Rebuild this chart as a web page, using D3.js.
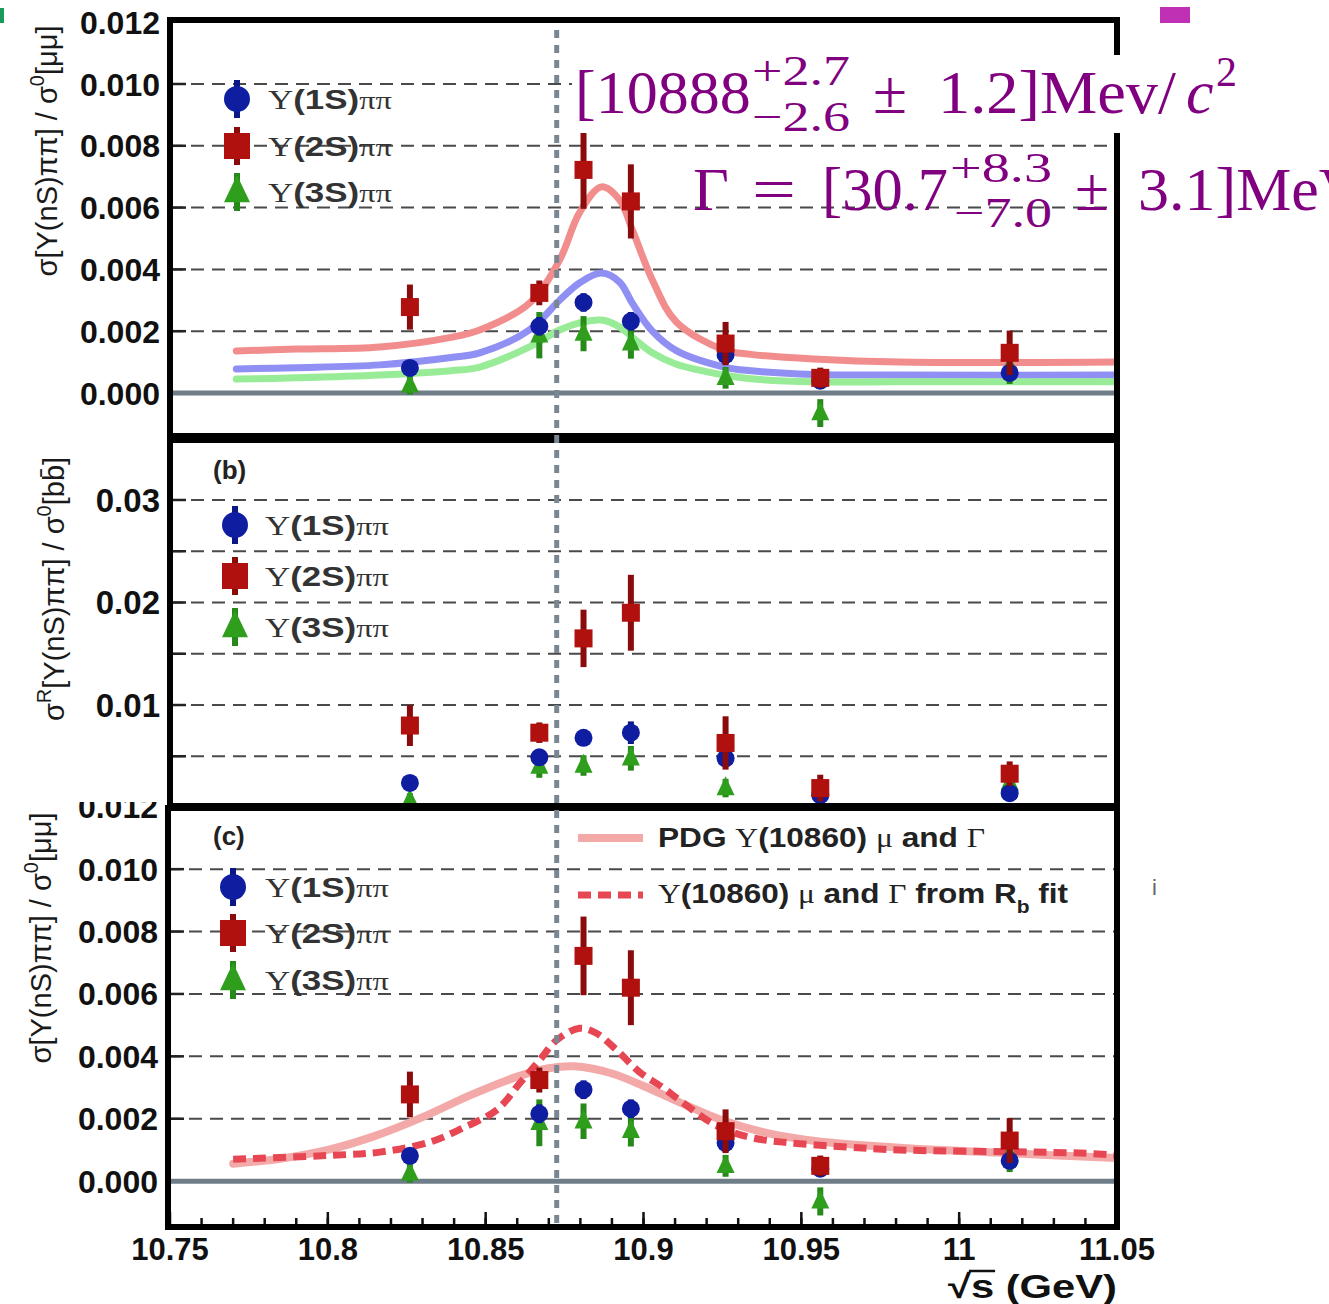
<!DOCTYPE html>
<html>
<head>
<meta charset="utf-8">
<script src="https://cdn.jsdelivr.net/npm/d3@7"></script>
<style>
  body { margin: 0; background: #fff; }
  text { white-space: pre; }
</style>
</head>
<body>
<svg id="fig" width="1329" height="1304"></svg>
<script>
// ---------------- data ----------------
// centre-of-mass energies of the scan points (GeV)
const energies = [10.826, 10.867, 10.881, 10.896, 10.926, 10.956, 11.016];
const seriesNames = ["1S", "2S", "3S"];

// panels (a) and (c): sigma[Y(nS)pipi] / sigma0[mumu]
const ratio1S    = [0.00081, 0.00216, 0.00293, 0.00232, 0.00123, 0.00040, 0.00065];
const ratio1SErr = [0.00020, 0.00030, 0.00030, 0.00030, 0.00030, 0.00020, 0.00020];
const ratio2S    = [0.00278, 0.00324, 0.00722, 0.00620, 0.00160, 0.00049, 0.00130];
const ratio2SErr = [0.00073, 0.00040, 0.00126, 0.00120, 0.00070, 0.00033, 0.00072];
const ratio3S    = [0.00025, 0.00187, 0.00192, 0.00161, 0.00049, -0.00065, 0.00084];
const ratio3SErr = [0.00030, 0.00075, 0.00057, 0.00050, 0.00035, 0.00045, 0.00055];

// panel (b): ratio to sigma[bb]
const rb1S    = [0.0024, 0.0049, 0.0068, 0.0073, 0.0048, 0.0012, 0.0014];
const rb1SErr = [0.0005, 0.0007, 0.0008, 0.0011, 0.0008, 0.0004, 0.0005];
const rb2S    = [0.0080, 0.0073, 0.0165, 0.0190, 0.0063, 0.0019, 0.0033];
const rb2SErr = [0.0020, 0.0010, 0.0028, 0.0037, 0.0026, 0.0013, 0.0012];
const rb3S    = [0.0007, 0.0040, 0.0041, 0.0048, 0.0019, 0.0003, 0.0024];
const rb3SErr = [0.0007, 0.0011, 0.0010, 0.0012, 0.0009, 0.0004, 0.0012];

// panel (a) fitted line shapes, sampled along sqrt(s)
const fitAE  = [10.771, 10.790, 10.8165, 10.839, 10.8481, 10.8639, 10.8734, 10.8797, 10.8867, 10.8924, 10.8965, 10.9028, 10.9104, 10.9256, 10.934, 10.954, 10.981, 11.05];
const fitA2S = [0.00136, 0.00142, 0.00149, 0.00180, 0.00204, 0.00291, 0.00430, 0.00583, 0.00667, 0.00625, 0.00527, 0.00366, 0.00230, 0.00139, 0.00125, 0.00110, 0.00100, 0.00100];
const fitA1S = [0.00078, 0.00082, 0.00091, 0.00115, 0.00130, 0.00204, 0.00300, 0.00356, 0.00388, 0.00359, 0.00290, 0.00200, 0.00137, 0.00084, 0.00072, 0.00060, 0.00058, 0.00058];
const fitA3S = [0.00045, 0.00049, 0.00058, 0.00072, 0.00084, 0.00149, 0.00204, 0.00227, 0.00236, 0.00214, 0.00180, 0.00130, 0.00093, 0.00058, 0.00046, 0.00036, 0.00036, 0.00036];

// panel (c) line shapes
const pdgE = [10.770, 10.785, 10.800, 10.815, 10.830, 10.845, 10.860, 10.870, 10.878, 10.890, 10.900, 10.912, 10.925, 10.940, 10.955, 10.980, 11.015, 11.050];
const pdgV = [0.00056, 0.00072, 0.00100, 0.00145, 0.00205, 0.00275, 0.00335, 0.00362, 0.00368, 0.00345, 0.00305, 0.00250, 0.00195, 0.00152, 0.00128, 0.00108, 0.00090, 0.00074];
const rbFitE = [10.770, 10.8016, 10.8165, 10.8323, 10.8427, 10.8535, 10.8608, 10.8671, 10.8725, 10.8797, 10.8851, 10.8915, 10.8987, 10.906, 10.9114, 10.9231, 10.9335, 10.944, 10.965, 10.981, 11.038, 11.05];
const rbFitV = [0.00070, 0.00083, 0.00093, 0.00125, 0.00170, 0.00228, 0.00314, 0.00388, 0.00452, 0.00490, 0.00474, 0.00420, 0.00350, 0.00301, 0.00260, 0.00178, 0.00141, 0.00125, 0.00109, 0.00100, 0.00090, 0.00083];

// axis ticks
const xTicks = [10.75, 10.8, 10.85, 10.9, 10.95, 11, 11.05];
const xTickLabels = ["10.75", "10.8", "10.85", "10.9", "10.95", "11", "11.05"];
const yTicksA = [0, 0.002, 0.004, 0.006, 0.008, 0.010, 0.012];
const yTicksB = [0.01, 0.02, 0.03];
const yGridB = [0.005, 0.01, 0.015, 0.02, 0.025, 0.03];
const yTicksC = [0, 0.002, 0.004, 0.006, 0.008, 0.010, 0.012];
const markE = 10.8725; // vertical reference line

// ---------------- drawing ----------------
const svg = d3.select("#fig");
svg.append("rect").attr("width", 1329).attr("height", 1304).attr("fill", "#fff");

const x = d3.scaleLinear().domain([10.75, 11.05]).range([170, 1117]);

const fill = { "1S": "#0f1ea0", "2S": "#b0100e", "3S": "#2f9e1d" };
const barCol = { "1S": "#0b1785", "2S": "#8a0b0b", "3S": "#27891a" };
const SANS = "'Liberation Sans', Arial, sans-serif";
const SERIF = "'Liberation Serif', 'DejaVu Serif', serif";

function marker(g, kind, cx, cy, s) {
  if (kind === "1S") {
    g.append("circle").attr("cx", cx).attr("cy", cy).attr("r", s / 2).attr("fill", fill[kind]);
  } else if (kind === "2S") {
    g.append("rect").attr("x", cx - s / 2).attr("y", cy - s / 2).attr("width", s).attr("height", s).attr("fill", fill[kind]);
  } else {
    const h = s * 1.05;
    g.append("path")
      .attr("d", `M${cx},${cy - h * 0.62}L${cx + s / 2},${cy + h * 0.38}L${cx - s / 2},${cy + h * 0.38}Z`)
      .attr("fill", fill[kind]);
  }
}

function points(g, y, vals, errs, kind) {
  energies.forEach((e, i) => {
    g.append("line")
      .attr("x1", x(e)).attr("x2", x(e))
      .attr("y1", y(vals[i] - errs[i])).attr("y2", y(vals[i] + errs[i]))
      .attr("stroke", barCol[kind]).attr("stroke-width", 6);
    marker(g, kind, x(e), y(vals[i]), 18);
  });
}

function curve(g, y, es, vs, color, width, dash) {
  const line = d3.line().x(d => x(d[0])).y(d => y(d[1])).curve(d3.curveCatmullRom.alpha(0.5));
  const p = g.append("path").attr("d", line(es.map((e, i) => [e, vs[i]])))
    .attr("fill", "none").attr("stroke", color).attr("stroke-width", width)
    .attr("stroke-linecap", dash ? "butt" : "round");
  if (dash) p.attr("stroke-dasharray", dash);
}

function frame(g, top, bottom, left, right, id) {
  g.append("clipPath").attr("id", id).append("rect")
    .attr("x", left).attr("y", top).attr("width", right - left).attr("height", bottom - top);
  return g.append("g").attr("clip-path", `url(#${id})`);
}

function grid(g, y, vals, left, right) {
  vals.forEach(v => {
    g.append("line").attr("x1", left).attr("x2", right).attr("y1", y(v)).attr("y2", y(v))
      .attr("stroke", "#4a4a4a").attr("stroke-width", 2).attr("stroke-dasharray", "13,8");
    g.append("line").attr("x1", left).attr("x2", left + 16).attr("y1", y(v)).attr("y2", y(v))
      .attr("stroke", "#222").attr("stroke-width", 2.5);
  });
}

function yLabels(g, y, vals, fmt, size, xr) {
  vals.forEach(v => {
    g.append("text").attr("x", xr).attr("y", y(v)).attr("dy", "0.36em")
      .attr("text-anchor", "end").attr("font-family", SANS).attr("font-weight", "bold")
      .attr("font-size", size).attr("fill", "#111").text(fmt(v));
  });
}

function legendEntry(g, kind, mx, my, tx) {
  g.append("line").attr("x1", mx).attr("x2", mx).attr("y1", my - 19).attr("y2", my + 19)
    .attr("stroke", barCol[kind]).attr("stroke-width", 6);
  marker(g, kind, mx, my, 26);
  const t = g.append("text").attr("x", tx).attr("y", my + 10).attr("fill", "#333").attr("font-size", 28)
    .attr("textLength", 124).attr("lengthAdjust", "spacingAndGlyphs");
  t.append("tspan").attr("font-family", SERIF).text("Υ");
  t.append("tspan").attr("font-family", SANS).attr("font-weight", "bold").text(`(${kind[0]}S)`);
  t.append("tspan").attr("font-family", SERIF).attr("font-size", 26).text("ππ");
}

function yTitle(g, cx, cy, parts) {
  const t = g.append("text").attr("transform", `translate(${cx},${cy}) rotate(-90)`)
    .attr("text-anchor", "middle").attr("font-family", SANS).attr("font-size", 29).attr("fill", "#1a1a1a");
  parts.forEach(p => {
    const s = t.append("tspan").text(p.t);
    if (p.sup) s.attr("font-size", 20).attr("dy", -13);
    if (p.after) s.attr("dy", 13);
  });
}

// ---------- panel (c) ----------
{
  const top = 808, bottom = 1227, left = 168, right = 1117;
  const y = d3.scaleLinear().domain([-0.00147, 0.01196]).range([bottom, top]);
  const g = svg.append("g");
  const inner = frame(g, top, bottom, left, right, "clipC");
  grid(inner, y, yTicksC.filter(v => v > 0), left, right);
  inner.append("line").attr("x1", left).attr("x2", right).attr("y1", y(0)).attr("y2", y(0))
    .attr("stroke", "#6f7d88").attr("stroke-width", 5);
  curve(inner, y, pdgE, pdgV, "#f4a9a9", 8, null);
  curve(inner, y, rbFitE, rbFitV, "#e64753", 7, "13,7");
  points(inner, y, ratio3S, ratio3SErr, "3S");
  points(inner, y, ratio1S, ratio1SErr, "1S");
  points(inner, y, ratio2S, ratio2SErr, "2S");

  yLabels(g, y, yTicksC, d3.format(".3f"), 32, 158);

  // x axis ticks (inside, from the bottom frame)
  const minor = d3.range(10.76, 11.05, 0.01);
  minor.forEach(v => g.append("line").attr("x1", x(v)).attr("x2", x(v)).attr("y1", bottom).attr("y2", bottom - 9)
    .attr("stroke", "#111").attr("stroke-width", 2.5));
  xTicks.forEach(v => g.append("line").attr("x1", x(v)).attr("x2", x(v)).attr("y1", bottom).attr("y2", bottom - 15)
    .attr("stroke", "#111").attr("stroke-width", 2.5));
  xTicks.forEach((v, i) => g.append("text").attr("x", x(v)).attr("y", 1260).attr("text-anchor", "middle")
    .attr("font-family", SANS).attr("font-weight", "bold").attr("font-size", 31).attr("fill", "#111")
    .text(xTickLabels[i]));
  const xt = g.append("text").attr("x", 948).attr("y", 1298)
    .attr("font-family", SANS).attr("font-weight", "bold").attr("font-size", 33).attr("fill", "#111")
    .attr("textLength", 169).attr("lengthAdjust", "spacingAndGlyphs")
    .text("√s (GeV)");
  // bar of the square root over "s"
  const sBox = xt.node().getExtentOfChar(1);
  g.append("line").attr("x1", sBox.x - 2).attr("x2", sBox.x + sBox.width + 1)
    .attr("y1", sBox.y + 3).attr("y2", sBox.y + 3).attr("stroke", "#111").attr("stroke-width", 2.5);

  g.append("rect").attr("x", left).attr("y", top).attr("width", right - left).attr("height", bottom - top)
    .attr("fill", "none").attr("stroke", "#000").attr("stroke-width", 6);

  g.append("text").attr("x", 213).attr("y", 845).attr("font-family", SANS).attr("font-weight", "bold")
    .attr("font-size", 26).attr("fill", "#222").text("(c)");
  legendEntry(g, "1S", 233, 887, 265);
  legendEntry(g, "2S", 233, 933, 265);
  legendEntry(g, "3S", 233, 980, 265);

  g.append("line").attr("x1", 578).attr("x2", 643).attr("y1", 838).attr("y2", 838)
    .attr("stroke", "#f4a9a9").attr("stroke-width", 8);
  g.append("line").attr("x1", 578).attr("x2", 643).attr("y1", 895).attr("y2", 895)
    .attr("stroke", "#e64753").attr("stroke-width", 7).attr("stroke-dasharray", "13,7");
  const l1 = g.append("text").attr("x", 658).attr("y", 847).attr("font-family", SANS).attr("font-weight", "bold")
    .attr("font-size", 27).attr("fill", "#222").attr("textLength", 327).attr("lengthAdjust", "spacingAndGlyphs");
  l1.append("tspan").text("PDG ");
  l1.append("tspan").attr("font-family", SERIF).attr("font-weight", "normal").text("Υ");
  l1.append("tspan").text("(10860) ");
  l1.append("tspan").attr("font-family", SERIF).attr("font-weight", "normal").text("μ");
  l1.append("tspan").text(" and ");
  l1.append("tspan").attr("font-family", SERIF).attr("font-weight", "normal").text("Γ");
  const l2 = g.append("text").attr("x", 658).attr("y", 903).attr("font-family", SANS).attr("font-weight", "bold")
    .attr("font-size", 27).attr("fill", "#222").attr("textLength", 410).attr("lengthAdjust", "spacingAndGlyphs");
  l2.append("tspan").attr("font-family", SERIF).attr("font-weight", "normal").text("Υ");
  l2.append("tspan").text("(10860) ");
  l2.append("tspan").attr("font-family", SERIF).attr("font-weight", "normal").text("μ");
  l2.append("tspan").text(" and ");
  l2.append("tspan").attr("font-family", SERIF).attr("font-weight", "normal").text("Γ");
  l2.append("tspan").text(" from R");
  l2.append("tspan").attr("font-size", 18).attr("dy", 10).text("b");
  l2.append("tspan").attr("dy", -10).text(" fit");

  yTitle(g, 51, 938, [{ t: "σ[Υ(nS)ππ] / σ" }, { t: "0", sup: true }, { t: "[μμ]", after: true }]);
  g.append("text").attr("x", 1152).attr("y", 895).attr("font-family", SANS).attr("font-size", 22)
    .attr("fill", "#666").text("i");
}

// ---------- panel (b) ----------
{
  const top = 440, bottom = 806, left = 170, right = 1117;
  const y = d3.scaleLinear().domain([0.00015, 0.03585]).range([bottom, top]);
  const g = svg.append("g");
  g.append("rect").attr("x", 0).attr("y", 438).attr("width", left).attr("height", 364).attr("fill", "#fff");
  g.append("rect").attr("x", left).attr("y", top).attr("width", right - left).attr("height", bottom - top).attr("fill", "#fff");
  const inner = frame(g, top, bottom, left, right, "clipB");
  grid(inner, y, yGridB, left, right);
  points(inner, y, rb3S, rb3SErr, "3S");
  points(inner, y, rb1S, rb1SErr, "1S");
  points(inner, y, rb2S, rb2SErr, "2S");
  yLabels(g, y, yTicksB, d3.format(".2f"), 33, 160);
  g.append("rect").attr("x", left).attr("y", top).attr("width", right - left).attr("height", bottom - top)
    .attr("fill", "none").attr("stroke", "#000").attr("stroke-width", 6);
  g.append("text").attr("x", 213).attr("y", 479).attr("font-family", SANS).attr("font-weight", "bold")
    .attr("font-size", 26).attr("fill", "#222").text("(b)");
  legendEntry(g, "1S", 235, 525, 265);
  legendEntry(g, "2S", 235, 576, 265);
  legendEntry(g, "3S", 235, 627, 265);
  yTitle(g, 64, 589, [{ t: "σ" }, { t: "R", sup: true }, { t: "[Υ(nS)ππ] / σ", after: true }, { t: "0", sup: true }, { t: "[bb̄]", after: true }]);
}

// ---------- panel (a) ----------
{
  const top = 20, bottom = 436, left = 170, right = 1117;
  const y = d3.scaleLinear().domain([-0.001392, 0.012071]).range([bottom, top]);
  const g = svg.append("g");
  const inner = frame(g, top, bottom, left, right, "clipA");
  grid(inner, y, yTicksA.filter(v => v > 0 && v < 0.012), left, right);
  inner.append("line").attr("x1", left).attr("x2", right).attr("y1", y(0)).attr("y2", y(0))
    .attr("stroke", "#6f7d88").attr("stroke-width", 5);
  curve(inner, y, fitAE, fitA2S, "#f28d8d", 7, null);
  curve(inner, y, fitAE, fitA1S, "#8f8ff4", 7, null);
  curve(inner, y, fitAE, fitA3S, "#98ec98", 7, null);
  points(inner, y, ratio3S, ratio3SErr, "3S");
  points(inner, y, ratio1S, ratio1SErr, "1S");
  points(inner, y, ratio2S, ratio2SErr, "2S");
  yLabels(g, y, yTicksA, d3.format(".3f"), 32, 160);
  g.append("rect").attr("x", left).attr("y", top).attr("width", right - left).attr("height", bottom - top)
    .attr("fill", "none").attr("stroke", "#000").attr("stroke-width", 6);
  legendEntry(g, "1S", 237, 99, 268);
  legendEntry(g, "2S", 237, 146, 268);
  legendEntry(g, "3S", 237, 192, 268);
  yTitle(g, 57, 151, [{ t: "σ[Υ(nS)ππ] / σ" }, { t: "0", sup: true }, { t: "[μμ]", after: true }]);
}

// vertical reference line through all three panels
svg.append("line").attr("x1", x(markE)).attr("x2", x(markE)).attr("y1", 30).attr("y2", 1227)
  .attr("stroke", "#7a8792").attr("stroke-width", 5).attr("stroke-dasharray", "8,7");

// ---------- fitted mass and width ----------
{
  const g = svg.append("g").attr("fill", "#800080").attr("font-family", SERIF);
  g.append("rect").attr("x", 572).attr("y", 55).attr("width", 560).attr("height", 78).attr("fill", "#fff");
  function piece(txt, px, py, size, opts = {}) {
    const t = g.append("text").attr("x", px).attr("y", py).attr("font-size", size).text(txt);
    if (opts.italic) t.attr("font-style", "italic");
    if (opts.len) t.attr("textLength", opts.len).attr("lengthAdjust", "spacingAndGlyphs");
    return t;
  }
  // mass
  piece("[10888", 575, 113, 62);
  piece("+2.7", 752, 85, 42, { len: 98 });
  piece("−2.6", 752, 131, 42, { len: 98 });
  piece("±", 873, 113, 62);
  piece("1.2]Mev/", 938, 113, 62, { len: 238 });
  piece("c", 1186, 113, 62, { italic: true });
  piece("2", 1216, 86, 42);
  // width
  piece("Γ", 693, 210, 62);
  piece("=", 752, 210, 62, { len: 44 });
  piece("[30.7", 822, 210, 62, { len: 126 });
  piece("+8.3", 950, 182, 42, { len: 102 });
  piece("−7.0", 954, 227, 42, { len: 98 });
  piece("±", 1075, 210, 62);
  piece("3.1]MeV", 1138, 210, 62);
}

// small colour tags in the corners
svg.append("rect").attr("x", 0).attr("y", 8).attr("width", 4).attr("height", 15).attr("fill", "#1a9a5a");
svg.append("rect").attr("x", 1160).attr("y", 7).attr("width", 30).attr("height", 16).attr("fill", "#c030b4");
</script>
</body>
</html>
